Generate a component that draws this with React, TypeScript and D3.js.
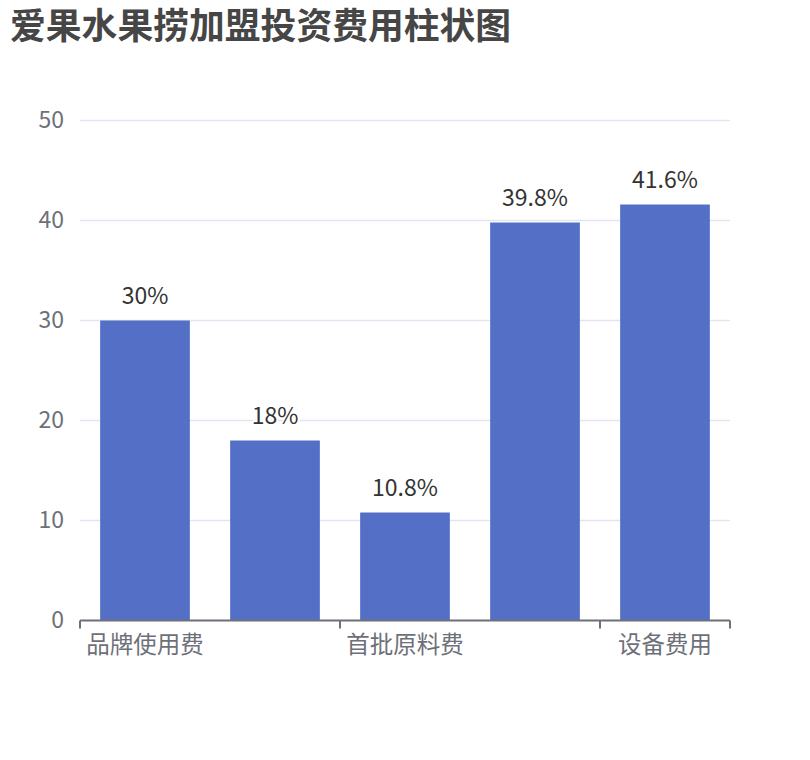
import * as d3 from "d3";

const categories = ["品牌使用费", "加盟费", "首批原料费", "装修费用", "设备费用"];
const values = [30, 18, 10.8, 39.8, 41.6];
const yTicks = [0, 10, 20, 30, 40, 50];

const W = 810,
  H = 760;
const margin = { top: 120.5, right: 80, bottom: 139.5, left: 80 };
const font = '"Noto Sans CJK SC", "Noto Sans", sans-serif';

export default function App() {
  const x = d3
    .scaleBand<string>()
    .domain(categories)
    .range([margin.left, W - margin.right])
    .padding(0);
  const y = d3
    .scaleLinear()
    .domain([0, 50])
    .range([H - margin.bottom, margin.top]);

  const barW = x.bandwidth() * 0.69;
  const step = x.step();
  // tick / label interval like the auto interval of the original
  const shown = categories.filter((_, i) => i % 2 === 0);
  const tickXs = [
    ...categories.map((c, i) => (i % 2 === 0 ? x(c)! : null)).filter((v) => v !== null),
    x(categories[categories.length - 1])! + step,
  ] as number[];

  return (
    <svg
      width={W}
      height={H}
      style={{ position: "absolute", left: 0, top: 0, background: "#fff" }}
      fontFamily={font}
    >
      <text x={10} y={39} fontSize={35.8} fontWeight="bold" fill="#464646">
        爱果水果捞加盟投资费用柱状图
      </text>

      <g>
        {yTicks.map((t) => (
          <g key={t}>
            {t > 0 && (
              <line
                x1={margin.left}
                x2={W - margin.right}
                y1={y(t)}
                y2={y(t)}
                stroke="#e0e6f1"
                strokeWidth={1.5}
              />
            )}
            <text
              x={64}
              y={y(t) - 3}
              textAnchor="end"
              dominantBaseline="central"
              fontSize={23}
              fill="#6e7079"
            >
              {t}
            </text>
          </g>
        ))}
      </g>

      <g>
        {categories.map((c, i) => (
          <rect
            key={c}
            x={x(c)! + (step - barW) / 2}
            y={y(values[i])}
            width={barW}
            height={y(0) - y(values[i])}
            fill="#5470c6"
          />
        ))}
      </g>

      <g>
        {categories.map((c, i) => (
          <text
            key={c}
            x={x(c)! + step / 2}
            y={y(values[i]) - 17}
            textAnchor="middle"
            fontSize={23}
            fill="#333"
            stroke="#fff"
            strokeWidth={4}
            strokeLinejoin="round"
            paintOrder="stroke"
          >
            {values[i] + "%"}
          </text>
        ))}
      </g>

      <g>
        <line
          x1={margin.left}
          x2={W - margin.right}
          y1={y(0)}
          y2={y(0)}
          stroke="#6e7079"
          strokeWidth={2}
        />
        {tickXs.map((tx) => (
          <line
            key={tx}
            x1={tx}
            x2={tx}
            y1={y(0)}
            y2={y(0) + 8}
            stroke="#6e7079"
            strokeWidth={2}
          />
        ))}
        {shown.map((c) => (
          <text
            key={c}
            x={x(c)! + step / 2}
            y={y(0) + 22}
            textAnchor="middle"
            dominantBaseline="central"
            fontSize={23.5}
            fill="#6e7079"
          >
            {c}
          </text>
        ))}
      </g>
    </svg>
  );
}
